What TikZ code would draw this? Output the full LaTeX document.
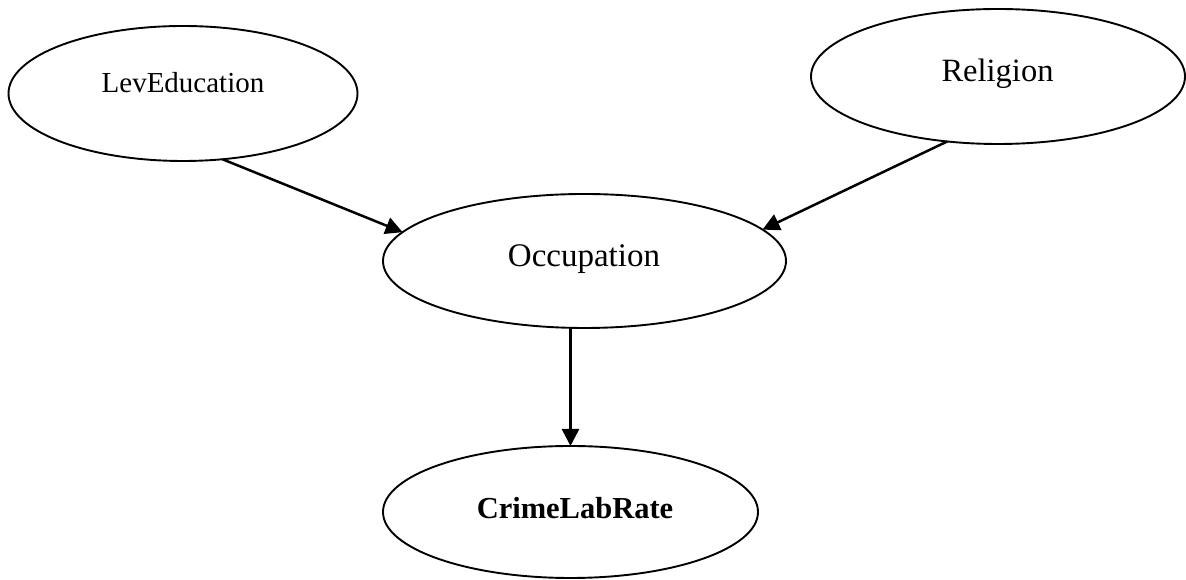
\documentclass[tikz,border=0pt]{standalone}
\usepackage{fontspec}
\setmainfont{Liberation Serif}
\usetikzlibrary{shapes.geometric,arrows.meta}
\tikzset{
  oval/.style={ellipse, draw=black, line width=1.9pt, inner sep=0pt, outer sep=0pt},
  lbl/.style={anchor=base, inner sep=0pt},
  link/.style={line width=2.5pt, -{Triangle[length=17pt,width=17pt]}, shorten >=0pt}
}
\begin{document}
\begin{tikzpicture}[x=1pt,y=1pt]
\useasboundingbox (0,0) rectangle (1186,580);
\node[oval, minimum width=349pt, minimum height=135pt] (lev) at (183,486.5) {};
\node[oval, minimum width=374pt, minimum height=135pt] (rel) at (998,503.5) {};
\node[oval, minimum width=403pt, minimum height=134pt] (occ) at (584.5,319) {};
\node[oval, minimum width=375pt, minimum height=132pt] (crime) at (570.5,68) {};
\node[lbl, font=\fontsize{29}{29}\selectfont] (tlev) at (183,487) {LevEducation};
\node[lbl, font=\fontsize{32.5}{32.5}\selectfont] (trel) at (997.5,498) {Religion};
\node[lbl, font=\fontsize{33}{33}\selectfont] (tocc) at (584,313) {Occupation};
\node[lbl, font=\fontsize{30.5}{30.5}\selectfont\bfseries] (tcrime) at (575,61) {CrimeLabRate};
\draw[link] (lev.-59) -- (occ.171);
\draw[link] (rel.232) -- (occ.10.8);
\draw[link] (occ.south -| crime.north) -- (crime.north);
\end{tikzpicture}
\end{document}
